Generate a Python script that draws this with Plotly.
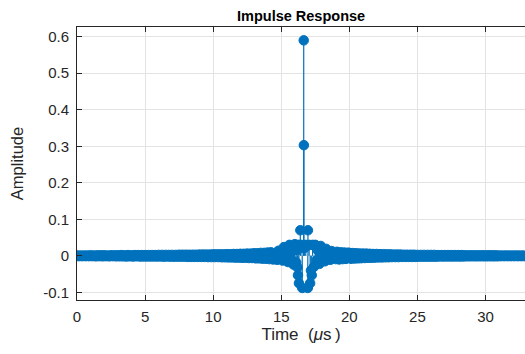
import plotly.graph_objects as go

# Sample instants (microseconds) of the filter impulse response
time_us = [
    0.000, 0.125, 0.250, 0.375, 0.500, 0.625, 0.750, 0.875,
    1.000, 1.125, 1.250, 1.375, 1.500, 1.625, 1.750, 1.875,
    2.000, 2.125, 2.250, 2.375, 2.500, 2.625, 2.750, 2.875,
    3.000, 3.125, 3.250, 3.375, 3.500, 3.625, 3.750, 3.875,
    4.000, 4.125, 4.250, 4.375, 4.500, 4.625, 4.750, 4.875,
    5.000, 5.125, 5.250, 5.375, 5.500, 5.625, 5.750, 5.875,
    6.000, 6.125, 6.250, 6.375, 6.500, 6.625, 6.750, 6.875,
    7.000, 7.125, 7.250, 7.375, 7.500, 7.625, 7.750, 7.875,
    8.000, 8.125, 8.250, 8.375, 8.500, 8.625, 8.750, 8.875,
    9.000, 9.125, 9.250, 9.375, 9.500, 9.625, 9.750, 9.875,
    10.000, 10.125, 10.250, 10.375, 10.500, 10.625, 10.750, 10.875,
    11.000, 11.125, 11.250, 11.375, 11.500, 11.625, 11.750, 11.875,
    12.000, 12.125, 12.250, 12.375, 12.500, 12.625, 12.750, 12.875,
    13.000, 13.125, 13.250, 13.375, 13.500, 13.625, 13.750, 13.875,
    14.000, 14.125, 14.250,
    14.40, 14.50, 14.60, 14.70, 14.80, 14.90, 15.00, 15.10, 15.20, 15.30,
    15.40, 15.50, 15.60, 15.70, 15.80, 15.90, 16.00, 16.10, 16.15, 16.20,
    16.23, 16.28, 16.30, 16.40, 16.45, 16.54, 16.60, 16.65, 16.66, 16.72,
    16.80, 16.95, 16.96, 17.05, 17.12, 17.18, 17.24, 17.30, 17.40, 17.50,
    17.60, 17.70, 17.80, 17.90, 18.00, 18.10, 18.20, 18.30, 18.40, 18.50,
    18.60, 18.70, 18.80, 18.90, 19.00, 19.10,
    19.250, 19.375, 19.500, 19.625, 19.750, 19.875,
    20.000, 20.125, 20.250, 20.375, 20.500, 20.625, 20.750, 20.875,
    21.000, 21.125, 21.250, 21.375, 21.500, 21.625, 21.750, 21.875,
    22.000, 22.125, 22.250, 22.375, 22.500, 22.625, 22.750, 22.875,
    23.000, 23.125, 23.250, 23.375, 23.500, 23.625, 23.750, 23.875,
    24.000, 24.125, 24.250, 24.375, 24.500, 24.625, 24.750, 24.875,
    25.000, 25.125, 25.250, 25.375, 25.500, 25.625, 25.750, 25.875,
    26.000, 26.125, 26.250, 26.375, 26.500, 26.625, 26.750, 26.875,
    27.000, 27.125, 27.250, 27.375, 27.500, 27.625, 27.750, 27.875,
    28.000, 28.125, 28.250, 28.375, 28.500, 28.625, 28.750, 28.875,
    29.000, 29.125, 29.250, 29.375, 29.500, 29.625, 29.750, 29.875,
    30.000, 30.125, 30.250, 30.375, 30.500, 30.625, 30.750, 30.875,
    31.000, 31.125, 31.250, 31.375, 31.500, 31.625, 31.750, 31.875,
    32.000, 32.125, 32.250, 32.375, 32.500, 32.625, 32.750, 32.875,
]

# Impulse response amplitude at each sample instant
amplitude = [
    0.001, -0.001, 0.001, -0.001, 0.001, -0.001, 0.001, -0.001,
    0.0015, -0.001, 0.001, -0.0015, 0.0015, -0.001, 0.0015, -0.0015,
    0.0015, -0.001, 0.001, -0.0015, 0.0015, -0.001, 0.0015, -0.0015,
    0.0015, -0.0015, 0.002, -0.0015, 0.0015, -0.002, 0.002, -0.0015,
    0.0015, -0.002, 0.002, -0.0015, 0.002, -0.002, 0.002, -0.002,
    0.002, -0.002, 0.002, -0.002, 0.002, -0.002, 0.002, -0.002,
    0.0025, -0.002, 0.0025, -0.0025, 0.0025, -0.002, 0.0025, -0.0025,
    0.0025, -0.0025, 0.0025, -0.0025, 0.003, -0.0025, 0.003, -0.0025,
    0.003, -0.003, 0.003, -0.003, 0.003, -0.003, 0.003, -0.003,
    0.0035, -0.003, 0.0035, -0.003, 0.0035, -0.0035, 0.0035, -0.0035,
    0.004, -0.0035, 0.004, -0.0035, 0.004, -0.004, 0.004, -0.004,
    0.0045, -0.0045, 0.0045, -0.0045, 0.005, -0.005, 0.005, -0.005,
    0.0055, -0.0055, 0.0055, -0.0055, 0.006, -0.006, 0.006, -0.006,
    0.007, -0.007, 0.007, -0.007, 0.008, -0.008, 0.008, -0.008,
    0.009, -0.009, 0.0095,
    -0.010, -0.003, 0.005, -0.011, 0.014, -0.004, 0.007, -0.013, 0.024, -0.005,
    0.010, -0.017, 0.030, -0.007, 0.014, -0.024, 0.032, -0.018, 0.015, -0.032,
    -0.053, 0.030, -0.075, 0.070, 0.030, -0.088, 0.022, 0.590, 0.303, 0.022,
    0.030, -0.088, 0.070, 0.030, -0.075, -0.040, -0.053, 0.030, -0.030, 0.030,
    -0.012, 0.014, -0.022, 0.027, -0.008, 0.010, -0.015, 0.019, -0.005, 0.007,
    -0.011, 0.013, -0.003, 0.005, -0.009, 0.011,
    -0.010, 0.0095, -0.009, 0.009, -0.0085, 0.0085,
    0.008, -0.008, 0.0075, -0.0075, 0.007, -0.007, 0.0065, -0.0065,
    0.006, -0.006, 0.006, -0.0055, 0.0055, -0.0055, 0.005, -0.005,
    0.005, -0.0045, 0.0045, -0.0045, 0.0045, -0.004, 0.004, -0.004,
    0.004, -0.0035, 0.0035, -0.0035, 0.0035, -0.0035, 0.0035, -0.003,
    0.003, -0.003, 0.003, -0.003, 0.003, -0.003, 0.003, -0.003,
    0.0025, -0.0025, 0.0025, -0.0025, 0.0025, -0.0025, 0.0025, -0.0025,
    0.0025, -0.0025, 0.0025, -0.0025, 0.002, -0.002, 0.002, -0.002,
    0.002, -0.002, 0.002, -0.002, 0.002, -0.002, 0.002, -0.002,
    0.002, -0.002, 0.002, -0.002, 0.0015, -0.0015, 0.0015, -0.0015,
    0.0015, -0.0015, 0.0015, -0.0015, 0.0015, -0.0015, 0.0015, -0.0015,
    0.0015, -0.0015, 0.0015, -0.0015, 0.0015, -0.0015, 0.0015, -0.0015,
    0.001, -0.001, 0.001, -0.001, 0.001, -0.001, 0.001, -0.001,
    0.001, -0.001, 0.001, -0.001, 0.001, -0.001, 0.001, -0.001,
]

x_ticks = [0, 5, 10, 15, 20, 25, 30]
x_tick_labels = ["0", "5", "10", "15", "20", "25", "30"]
y_ticks = [-0.1, 0, 0.1, 0.2, 0.3, 0.4, 0.5, 0.6]
y_tick_labels = ["-0.1", "0", "0.1", "0.2", "0.3", "0.4", "0.5", "0.6"]

STEM_BLUE = "#0072BD"
FONT = "Liberation Sans, Arial, Helvetica, sans-serif"

# Stem lines: one segment from the baseline to each sample value
stem_x, stem_y = [], []
for t, a in zip(time_us, amplitude):
    stem_x += [t, t, None]
    stem_y += [0, a, None]

fig = go.Figure()
fig.add_trace(go.Scatter(
    x=stem_x, y=stem_y, mode="lines",
    line=dict(color=STEM_BLUE, width=1.2),
    hoverinfo="skip", showlegend=False,
))
fig.add_trace(go.Scatter(
    x=time_us, y=amplitude, mode="markers",
    marker=dict(color=STEM_BLUE, size=9.5, opacity=1,
                line=dict(width=1, color=STEM_BLUE)),
    showlegend=False,
))

axis_common = dict(
    showgrid=True, gridcolor="#e3e3e3", gridwidth=1,
    zeroline=False, showline=True, linecolor="#262626", linewidth=1,
    ticks="inside", ticklen=5, tickcolor="#262626",
    tickfont=dict(family=FONT, size=15, color="#262626"),
)

fig.update_layout(
    width=525, height=354,
    margin=dict(l=77, r=0, t=27, b=54),
    paper_bgcolor="white", plot_bgcolor="white",
    title=dict(
        text="<b>Impulse Response</b>", x=0.5735, xanchor="center",
        y=0.956, yanchor="middle",
        font=dict(family=FONT, size=14.5, color="black"),
    ),
    xaxis=dict(
        axis_common, range=[0, 32.9], tickvals=x_ticks, ticktext=x_tick_labels,
        mirror="ticks", ticklabelstandoff=3,
        title=dict(text="Time\u00a0 (<i>\u03bc</i>s\u2009)",
                   font=dict(family=FONT, size=17, color="#262626"),
                   standoff=3),
    ),
    yaxis=dict(
        axis_common, range=[-0.121, 0.6266], tickvals=y_ticks, ticktext=y_tick_labels,
        ticklabelstandoff=4,
        title=dict(text="Amplitude", font=dict(family=FONT, size=16.5, color="#262626"),
                   standoff=15),
    ),
)

fig.write_html("out.html")
